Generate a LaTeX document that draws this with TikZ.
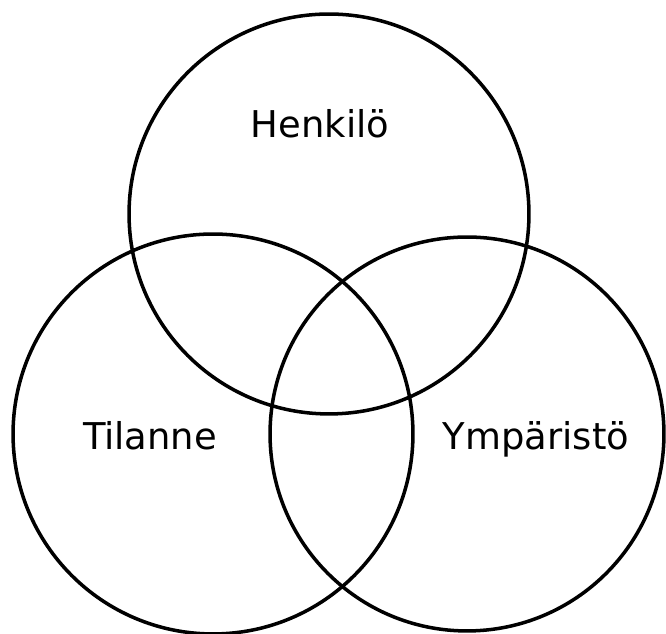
\documentclass[tikz,border=0pt]{standalone}
\usepackage{fontspec}
\setmainfont{DejaVu Sans}
\begin{document}
\begin{tikzpicture}[x=0.02cm,y=0.02cm,line width=2pt,font=\fontsize{21}{25}\selectfont,
	venn/.style={draw,circle,minimum size=8cm,inner sep=0pt},
	label/.style={anchor=base,inner sep=0pt}]
	\useasboundingbox (0,0) rectangle (666,634);
	\node[venn] (henkilo) at (329,420) {};
	\node[venn] (tilanne) at (213,200) {};
	\node[venn,minimum size=7.88cm] (ymparisto) at (467,200) {};
	\node[label] (t1) at (320,496) {Henkilö};
	\node[label] (t2) at (150,184) {Tilanne};
	\node[label] (t3) at (536,184) {Ympäristö};
\end{tikzpicture}
\end{document}
